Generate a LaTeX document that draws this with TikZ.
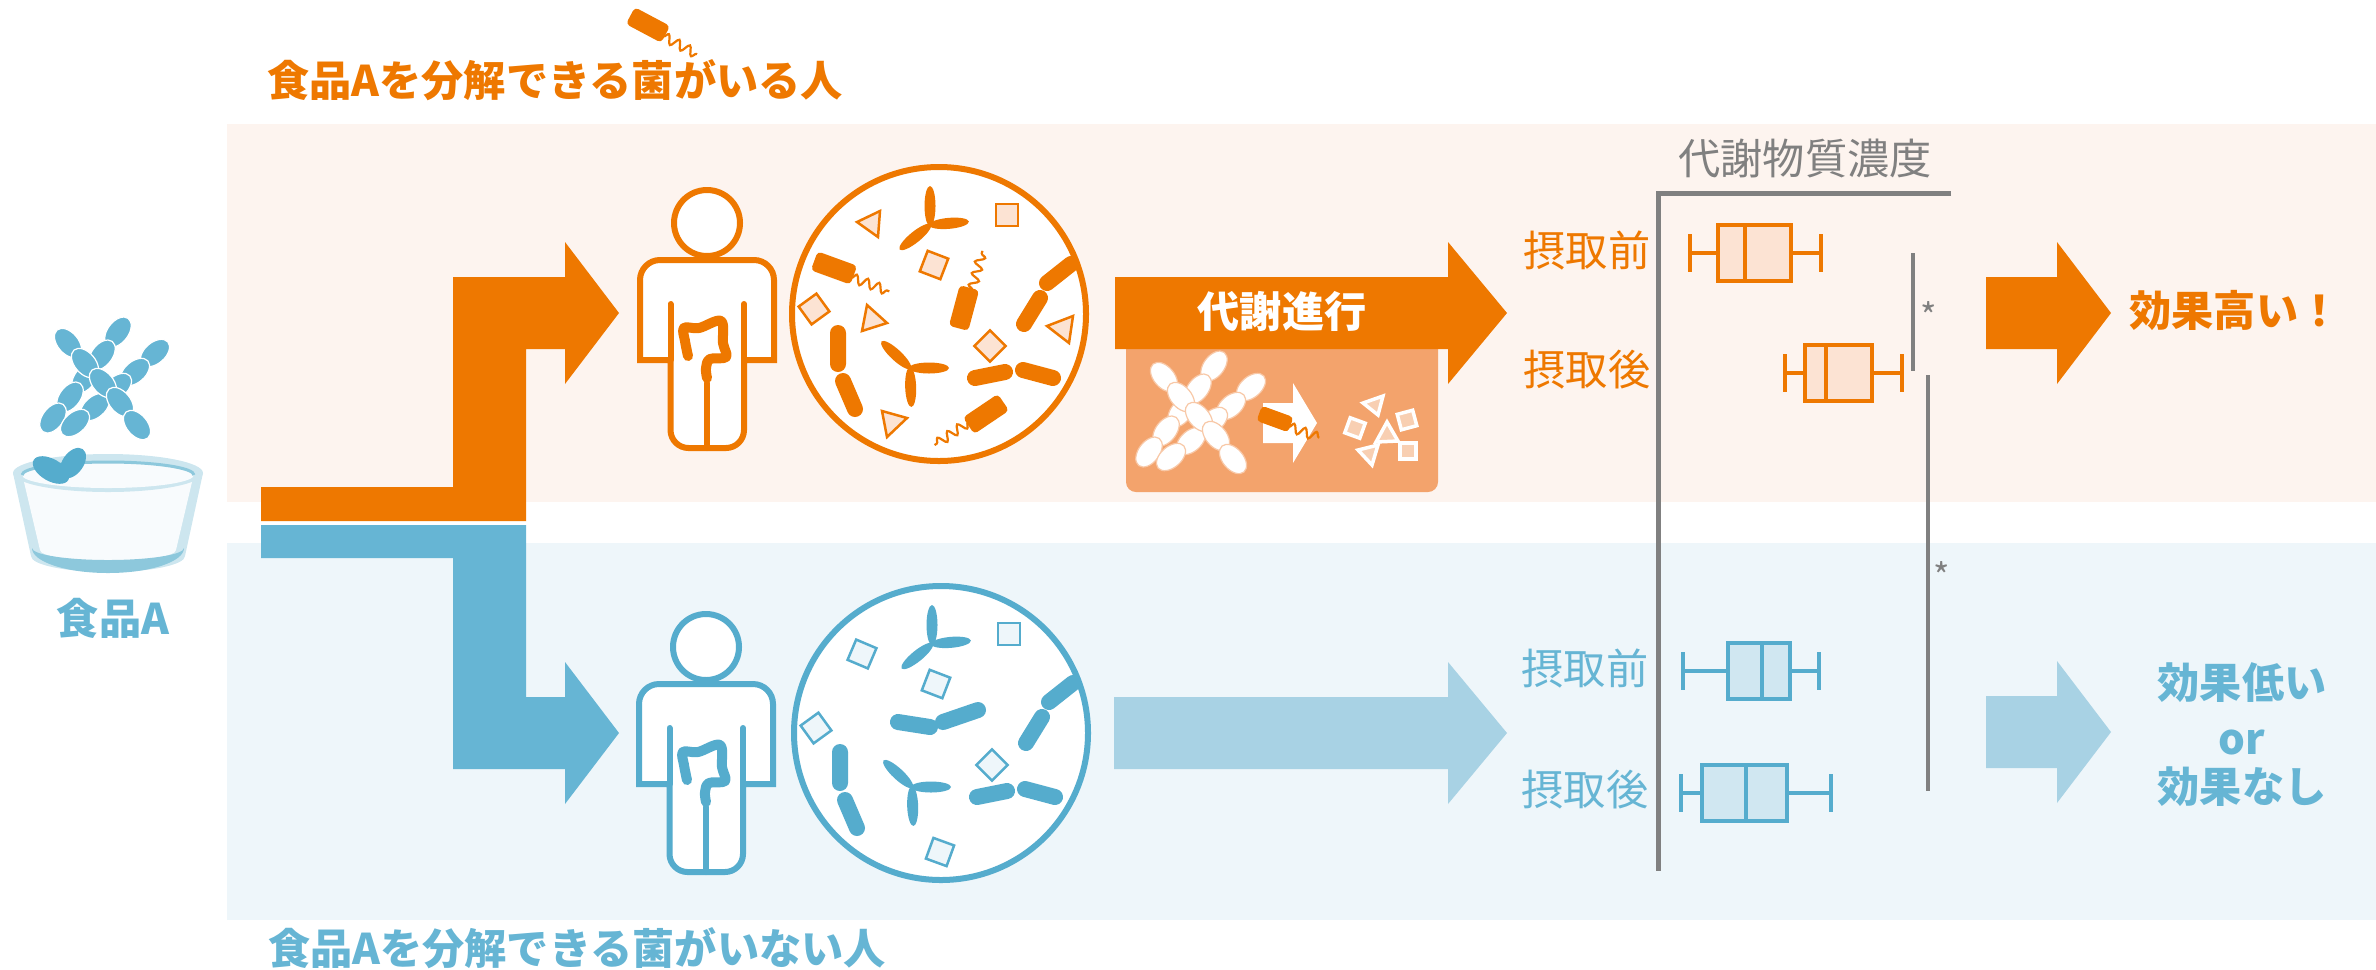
\documentclass[tikz,border=0pt]{standalone}
\usepackage{fontspec}
\setmainfont{Noto Sans CJK JP}
\usetikzlibrary{decorations.pathmorphing}

\definecolor{orng}{HTML}{EE7800}
\definecolor{orngband}{HTML}{FDF4EF}
\definecolor{orngchip}{HTML}{FCE3D3}
\definecolor{orngsoft}{HTML}{F3A36C}
\definecolor{orngfrag}{HTML}{F8CFB2}
\definecolor{blu}{HTML}{55ACCD}
\definecolor{blubar}{HTML}{66B5D4}
\definecolor{bluband}{HTML}{EEF6FA}
\definecolor{blubox}{HTML}{D0E7F1}
\definecolor{bluarrow}{HTML}{A8D2E4}
\definecolor{bowlpale}{HTML}{CDE6EF}
\definecolor{bowldark}{HTML}{8DC8DC}
\definecolor{bowlwhite}{HTML}{F8FBFD}
\definecolor{axisgray}{HTML}{808080}

\tikzset{
  txt/.style={inner sep=0pt, font=\fontsize{12}{14}\selectfont},
  heavytxt/.style={inner sep=0pt, font=\fontsize{12}{14}\selectfont\bfseries},
  pill/.style={line width=0.16cm, line cap=round},
  chip/.style={line width=0.025cm},
  tri/.style={line width=0.025cm, line join=miter},
  frag/.style={draw=white, fill=orngfrag, line width=0.035cm},
  axisline/.style={axisgray, line width=0.05cm},
  sigline/.style={axisgray, line width=0.04cm},
  snaky/.style={decorate, decoration={snake, amplitude=1.3pt, segment length=3.4pt}},
  % body outline with head, arms and gut
  pics/person/.style={code={
    \begin{scope}[line width=0.06cm]
    \draw[fill=white] (0,0) circle[radius=33];
    \draw[fill=white] (-36.5,137) -- (-67,137) [rounded corners=0.2cm] -- (-67,37) -- (67,37)
      [sharp corners] -- (67,137) -- (37,137) [rounded corners=0.18cm] -- (37,225) -- (-36.5,225)
      [sharp corners] -- cycle;
    \draw[line cap=round] (-36.5,81) -- (-36.5,137) (37,81) -- (37,137) (0,160) -- (0,225);
    \end{scope}
    \draw[line width=0.1cm, line cap=round, line join=round] plot[smooth, tension=0.6]
      coordinates {(-19,133) (-22,118) (-23,105) (-8,105) (14,98) (16,120) (19,134) (3,136) (-1,145) (0,155)};
  }},
  pics/trilobe/.style n args={3}{code={
    \foreach \a in {#1,#2,#3}
      \fill[rotate=\a] (19,0) ellipse[x radius=20, y radius=5.5];
  }},
  pics/flagrod/.style={code={
    \fill[rounded corners=0.04cm] (-21,-10) rectangle (21,10);
    \draw[line width=0.022cm, snaky] (20,3) -- (60,3);
  }},
  % crossed chains of beads (fibre)
  pics/fiberx/.style 2 args={code={
    \foreach \px/\py in {16/-50,0/-27,-17/-4,-32/15,-49/36}
      \filldraw[fill=#1, draw=#2, line width=0.012cm, rotate around={53:(\px,\py)}] (\px,\py) ellipse[x radius=17, y radius=10.5];
    \foreach \px/\py in {53/-29,33/-10,15/5,-7/25,-27/41}
      \filldraw[fill=#1, draw=#2, line width=0.012cm, rotate around={41:(\px,\py)}] (\px,\py) ellipse[x radius=17, y radius=10.5];
    \foreach \px/\py in {-34/-39,-17/-19,1/1,18/20,35/43}
      \filldraw[fill=#1, draw=#2, line width=0.012cm, rotate around={-50:(\px,\py)}] (\px,\py) ellipse[x radius=17, y radius=10.5];
  }},
}

\newcommand{\fatarrow}[5]{\fill[#1] (#2,#5-36) -- (#3,#5-36) -- (#3,#5-71) -- (#4,#5) -- (#3,#5+71) -- (#3,#5+36) -- (#2,#5+36) -- cycle;}

\newcommand{\whiskerbox}[8]{%
  \draw[#1, line width=0.045cm] (#4,#3) -- (#5,#3) (#7,#3) -- (#8,#3) (#4,#3-19) -- (#4,#3+19) (#8,#3-19) -- (#8,#3+19);
  \draw[#1, fill=#2, line width=0.045cm] (#5,#3-28) rectangle (#7,#3+28);
  \draw[#1, line width=0.045cm] (#6,#3-28) -- (#6,#3+28);}

% microbes found in both guts
\newcommand{\commonflora}[2]{%
  \pic[#1] at (930,225) {trilobe={90}{5}{219}};
  \pic[#1] at (910,368) {trilobe={137}{0}{-88}};
  \draw[chip, draw=#1, fill=#2] (996,204) rectangle (1018,226);
  \draw[chip, draw=#1, fill=#2, rotate around={-21:(934,265)}] (923,254) rectangle (945,276);
  \draw[chip, draw=#1, fill=#2, rotate around={36:(814,309)}] (803,298) rectangle (825,320);
  \draw[chip, draw=#1, fill=#2, rotate around={45:(990,346)}] (979,335) rectangle (1001,357);
  \draw[pill, #1] (1047,283) -- (1071,264) (1040,298) -- (1024,324);
  \draw[pill, #1] (838,333) -- (838,364) (843,381) -- (855,409);
  \draw[pill, #1] (975,378) -- (1005,372) (1023,370) -- (1053,378);}

\begin{document}
\begin{tikzpicture}[x=0.01cm, y=-0.01cm]
\useasboundingbox (0,0) rectangle (2376,969);
\fill[orngband] (227,124) rectangle (2376,502);
\fill[bluband] (227,543) rectangle (2376,920);

\node[heavytxt, text=orng] (yestitle) at (555,80) {食品Aを分解できる菌がいる人};
\node[heavytxt, text=blubar] (notitle) at (577,948) {食品Aを分解できる菌がいない人};
\pic[orng, rotate=-28, scale=0.95] at (648,25) {flagrod};

% bowl of food A
\fill[bowlpale] (13,473) -- (31,556) arc[start angle=180, end angle=0, x radius=77, y radius=16] -- (203,473) -- cycle;
\fill[bowlwhite] (24,482) -- (40,550) arc[start angle=180, end angle=0, x radius=68, y radius=11] -- (192,482) -- cycle;
\fill[bowldark] (32,548) arc[start angle=180, end angle=0, x radius=76, y radius=25]
  arc[start angle=0, end angle=180, x radius=76, y radius=12] -- cycle;
\fill[bowlpale] (108,473) ellipse[x radius=95, y radius=19];
\fill[bowlwhite] (108,475) ellipse[x radius=86, y radius=13];
\draw[bowldark, line width=0.03cm] (22,475) arc[start angle=180, end angle=360, x radius=86, y radius=13];
\fill[blu, rotate around={-30:(51,470)}] (51,470) ellipse[x radius=20, y radius=11];
\fill[blu, rotate around={55:(73,463)}] (73,463) ellipse[x radius=17, y radius=10.5];
\pic at (102,382) {fiberx={blubar}{white}};
\node[heavytxt, text=blubar] (foodlbl) at (113,618) {食品A};

% branching arrows
\fill[orng] (261,487) -- (453,487) -- (453,277) -- (565,277) -- (565,242) -- (619,313) -- (565,384)
  -- (565,349) -- (526,349) -- (526,521) -- (261,521) -- cycle;
\fill[blubar] (261,525) -- (526,525) -- (526,697) -- (565,697) -- (565,662) -- (619,733) -- (565,804)
  -- (565,769) -- (453,769) -- (453,558) -- (261,558) -- cycle;

\pic[orng] at (707,223) {person};
\pic[blu] at (706,647) {person};

% gut flora, with degrading bacteria
\draw[orng, line width=0.06cm, fill=white] (939,314) circle[radius=147];
\commonflora{orng}{orngchip}
\draw[tri, draw=orng, fill=orngchip] (857,222) -- (880,211) -- (878,237) -- cycle;
\draw[tri, draw=orng, fill=orngchip] (867,305) -- (887,323) -- (862,331) -- cycle;
\draw[tri, draw=orng, fill=orngchip] (1073,316) -- (1069,343) -- (1047,326) -- cycle;
\draw[tri, draw=orng, fill=orngchip] (882,411) -- (907,418) -- (887,437) -- cycle;
\pic[orng, rotate=-20] at (834,268) {flagrod};
\pic[orng, rotate=75] at (964,308) {flagrod};
\pic[orng, rotate=214] at (986,414) {flagrod};

% gut flora, without them
\draw[blu, line width=0.06cm, fill=white] (941,733) circle[radius=147];
\begin{scope}[shift={(2,419)}]
\commonflora{blu}{bluband}
\end{scope}
\draw[pill, blu] (898,722) -- (930,727) (943,722) -- (978,710);
\draw[chip, draw=blu, fill=bluband, rotate around={-23:(862,654)}] (851,643) rectangle (873,665);
\draw[chip, draw=blu, fill=bluband, rotate around={-20:(940,852)}] (929,841) rectangle (951,863);

% metabolism
\fill[orngsoft, rounded corners=0.1cm] (1126,330) rectangle (1438,492);
\fatarrow{orng}{1115}{1448}{1507}{313}
\node[heavytxt, text=white] (metablbl) at (1282,311) {代謝進行};
\pic at (1198,416) {fiberx={white}{orngsoft!60!white}};
\fill[white] (1263,403) -- (1293,403) -- (1293,383) -- (1317,423) -- (1293,463) -- (1293,443) -- (1263,443) -- cycle;
\pic[orng, rotate=-20, scale=0.8] at (1275,419) {flagrod};
\draw[frag, rotate around={-20:(1355,428)}] (1347,420) rectangle (1363,436);
\draw[frag, rotate around={15:(1407,420)}] (1399,412) rectangle (1415,428);
\draw[frag] (1400,443) rectangle (1416,459);
\draw[frag] (1363,403) -- (1383,396) -- (1378,415) -- cycle;
\draw[frag] (1387,422) -- (1398,441) -- (1376,442) -- cycle;
\draw[frag] (1358,450) -- (1378,445) -- (1372,465) -- cycle;
\fatarrow{bluarrow}{1114}{1448}{1507}{733}

% concentration chart
\node[txt, text=axisgray] (axislbl) at (1805,158) {代謝物質濃度};
\draw[axisline] (1951,193) -- (1658,193) -- (1658,871);
\node[txt, text=orng] (preO) at (1587,250) {摂取前};
\node[txt, text=orng] (postO) at (1587,370) {摂取後};
\node[txt, text=blubar] (preB) at (1585,668) {摂取前};
\node[txt, text=blubar] (postB) at (1585,790) {摂取後};
\whiskerbox{orng}{orngchip}{253}{1690}{1718}{1745}{1791}{1821}
\whiskerbox{orng}{orngchip}{373}{1785}{1805}{1826}{1872}{1902}
\whiskerbox{blu}{blubox}{671}{1683}{1728}{1762}{1790}{1819}
\whiskerbox{blu}{blubox}{793}{1681}{1702}{1746}{1787}{1831}
\draw[sigline] (1913,253) -- (1913,371);
\draw[sigline] (1928,375) -- (1928,791);
\node[txt, text=axisgray, font=\fontsize{10}{11}\selectfont] (starA) at (1929,315) {*};
\node[txt, text=axisgray, font=\fontsize{10}{11}\selectfont] (starB) at (1942,575) {*};

% outcome
\fatarrow{orng}{1986}{2057}{2111}{313}
\fatarrow{bluarrow}{1986}{2057}{2111}{732}
\node[heavytxt, text=orng] (effectO) at (2235,310) {効果高い！};
\node[heavytxt, text=blubar] (effectB) at (2242,683) {効果低い};
\node[heavytxt, text=blubar] (effectOr) at (2242,742) {or};
\node[heavytxt, text=blubar] (effectN) at (2242,787) {効果なし};
\end{tikzpicture}
\end{document}
